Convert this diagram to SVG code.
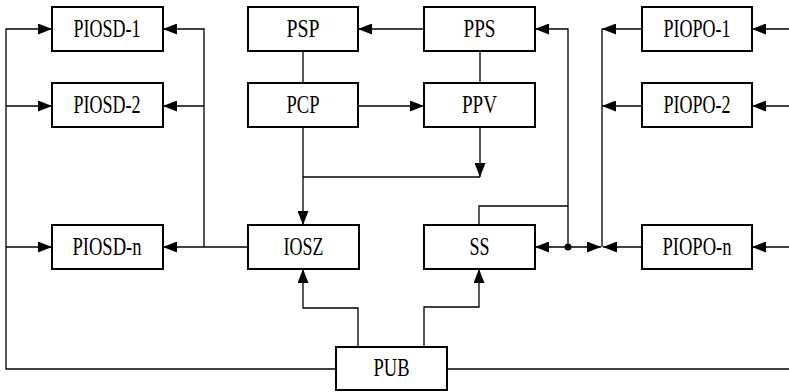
<svg xmlns="http://www.w3.org/2000/svg" width="789" height="392" viewBox="0 0 789 392">
  <style>
    .box { fill: #fff; stroke: #000; stroke-width: 2; }
    .lbl { font-family: "Liberation Serif", "Times New Roman", serif; font-size: 24.5px; fill: #000; text-anchor: middle; }
    .wire { fill: none; stroke: #000; stroke-width: 1.3; }
    .arr { marker-end: url(#tip); }
  </style>
  <defs>
    <marker id="tip" viewBox="0 0 14 11" refX="14" refY="5.5" markerWidth="14" markerHeight="11" markerUnits="userSpaceOnUse" orient="auto">
      <path d="M0,0 L14,5.5 L0,11 Z" fill="#000"/>
    </marker>
  </defs>

  <g id="connectors">
    <!-- left feed bus from PUB to PIOSD units -->
    <path class="wire arr" d="M336,369 H6 V29 H52"/>
    <path class="wire arr" d="M6,106 H52"/>
    <path class="wire arr" d="M6,247 H52"/>
    <path class="wire" d="M447,369 H789"/>
    <!-- IOSZ to PIOSD units -->
    <path class="wire arr" d="M248,247 H163"/>
    <path class="wire arr" d="M204,247 V29 H163"/>
    <path class="wire arr" d="M204,106 H163"/>
    <!-- central block -->
    <path class="wire arr" d="M424,29 H358"/>
    <path class="wire" d="M303,51 V83"/>
    <path class="wire" d="M480,51 V83"/>
    <path class="wire arr" d="M358,106 H424"/>
    <path class="wire arr" d="M480,127 V177"/>
    <path class="wire" d="M480,177 H303"/>
    <path class="wire arr" d="M303,127 V225"/>
    <!-- PUB to IOSZ and SS -->
    <path class="wire arr" d="M358,347 V308 H303 V269"/>
    <path class="wire arr" d="M424,347 V307 H479 V269"/>
    <!-- SS links -->
    <path class="wire" d="M479,225 V206 H568"/>
    <path class="wire arr" d="M568,247 V29 H535"/>
    <path class="wire arr" d="M568,247 H535"/>
    <path class="wire arr" d="M568,247 H601"/>
    <circle cx="568" cy="247" r="3.5" fill="#000"/>
    <!-- PIOPO outputs -->
    <path class="wire" d="M602,29 V247"/>
    <path class="wire arr" d="M642,29 H602"/>
    <path class="wire arr" d="M642,106 H602"/>
    <path class="wire arr" d="M642,247 H603"/>
    <path class="wire arr" d="M789,29 H752"/>
    <path class="wire arr" d="M789,106 H752"/>
    <path class="wire arr" d="M789,247 H752"/>
  </g>

  <g id="PIOSD-1"><rect class="box" x="52" y="7" width="111" height="44"/><text class="lbl" x="107" y="37" textLength="67" lengthAdjust="spacingAndGlyphs">PIOSD-1</text></g>
  <g id="PIOSD-2"><rect class="box" x="52" y="83" width="111" height="44"/><text class="lbl" x="107" y="113" textLength="67" lengthAdjust="spacingAndGlyphs">PIOSD-2</text></g>
  <g id="PIOSD-n"><rect class="box" x="52" y="225" width="111" height="44"/><text class="lbl" x="107" y="255" textLength="69" lengthAdjust="spacingAndGlyphs">PIOSD-n</text></g>
  <g id="PSP"><rect class="box" x="248" y="7" width="110" height="44"/><text class="lbl" x="303" y="37" textLength="33" lengthAdjust="spacingAndGlyphs">PSP</text></g>
  <g id="PPS"><rect class="box" x="424" y="7" width="111" height="44"/><text class="lbl" x="479.5" y="37" textLength="32" lengthAdjust="spacingAndGlyphs">PPS</text></g>
  <g id="PCP"><rect class="box" x="248" y="83" width="110" height="44"/><text class="lbl" x="303" y="113" textLength="33" lengthAdjust="spacingAndGlyphs">PCP</text></g>
  <g id="PPV"><rect class="box" x="424" y="83" width="111" height="44"/><text class="lbl" x="479.5" y="113" textLength="35" lengthAdjust="spacingAndGlyphs">PPV</text></g>
  <g id="IOSZ"><rect class="box" x="248" y="225" width="111" height="44"/><text class="lbl" x="303.5" y="255" textLength="40" lengthAdjust="spacingAndGlyphs">IOSZ</text></g>
  <g id="SS"><rect class="box" x="424" y="225" width="111" height="44"/><text class="lbl" x="479.5" y="255" textLength="20" lengthAdjust="spacingAndGlyphs">SS</text></g>
  <g id="PIOPO-1"><rect class="box" x="642" y="7" width="110" height="44"/><text class="lbl" x="697" y="37" textLength="67" lengthAdjust="spacingAndGlyphs">PIOPO-1</text></g>
  <g id="PIOPO-2"><rect class="box" x="642" y="83" width="110" height="44"/><text class="lbl" x="697" y="113" textLength="67" lengthAdjust="spacingAndGlyphs">PIOPO-2</text></g>
  <g id="PIOPO-n"><rect class="box" x="642" y="225" width="110" height="44"/><text class="lbl" x="697" y="255" textLength="69" lengthAdjust="spacingAndGlyphs">PIOPO-n</text></g>
  <g id="PUB"><rect class="box" x="336" y="347" width="111" height="43"/><text class="lbl" x="391.5" y="376" textLength="36" lengthAdjust="spacingAndGlyphs">PUB</text></g>
</svg>
